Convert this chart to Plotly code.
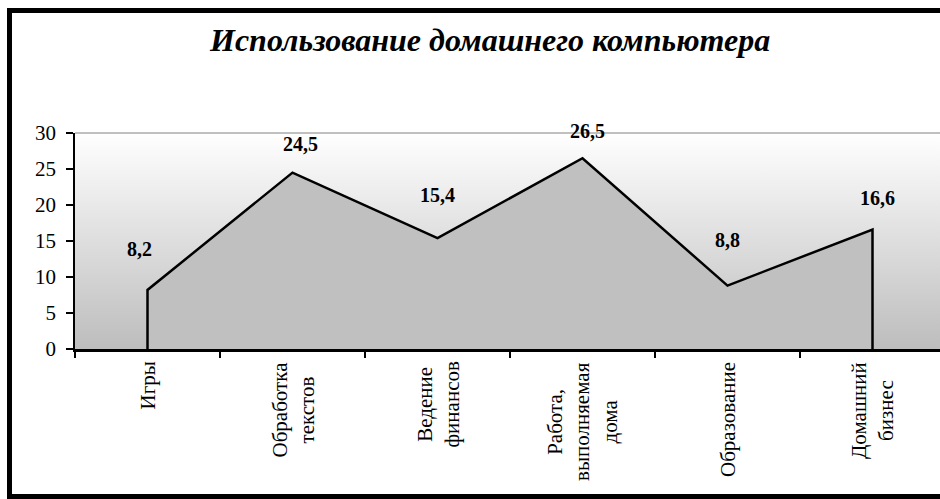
import plotly.graph_objects as go

title = "Использование домашнего компьютера"
categories = ["Игры", "Обработка<br>текстов", "Ведение<br>финансов",
              "Работа,<br>выполняемая<br>дома", "Образование", "Домашний<br>бизнес"]
values = [8.2, 24.5, 15.4, 26.5, 8.8, 16.6]
y_ticks = [0, 5, 10, 15, 20, 25, 30]

# label offsets (style)
label_yshift = [41, 29, 43, 27, 46, 31]
label_xshift = [-8, 8, 0, 5, 0, 5]

W, H = 940, 499
ML, MR, MT, MB = 75, 0, 133, 150
PW, PH = W - ML - MR, H - MT - MB

def px2paper_x(px):
    return (px - ML) / PW

def px2paper_y(py):
    return (H - MB - py) / PH

n = len(values)
idx = list(range(n))
cat_px = 145.0
x_max = -0.5 + PW / cat_px

FONT = "Liberation Serif"

fig = go.Figure()
fig.add_trace(go.Scatter(
    x=[idx[0]] + idx + [idx[-1]],
    y=[0] + values + [0],
    mode="lines",
    fill="toself",
    fillcolor="#c0c0c0",
    line=dict(color="black", width=2.5),
    hoverinfo="skip",
    showlegend=False,
))

annotations = []
for i, v in enumerate(values):
    annotations.append(dict(
        x=i, y=v, xref="x", yref="y",
        text="<b>" + f"{v:.1f}".replace(".", ",") + "</b>",
        showarrow=False, font=dict(family=FONT, size=20, color="black"),
        yshift=label_yshift[i], xshift=label_xshift[i],
        xanchor="center", yanchor="middle",
    ))
for i, c in enumerate(categories):
    annotations.append(dict(
        x=i, y=0, xref="x", yref="paper",
        text=c, showarrow=False, textangle=-90,
        font=dict(family=FONT, size=21, color="black"),
        xanchor="center", yanchor="top", yshift=-11, align="center",
    ))
annotations.append(dict(
    x=px2paper_x(489), y=px2paper_y(40), xref="paper", yref="paper",
    text="<b><i>" + title + "</i></b>", showarrow=False,
    font=dict(family=FONT, size=32, color="black"),
    xanchor="center", yanchor="middle",
))

svg = ("data:image/svg+xml;utf8,"
       "<svg xmlns='http://www.w3.org/2000/svg' width='100' height='100' preserveAspectRatio='none'>"
       "<defs><linearGradient id='g' x1='0' y1='0' x2='0' y2='1'>"
       "<stop offset='0' stop-color='%23ffffff'/><stop offset='1' stop-color='%23bdbdbd'/>"
       "</linearGradient></defs><rect width='100' height='100' fill='url(%23g)'/></svg>")

fig.update_layout(
    width=W, height=H,
    margin=dict(l=ML, r=MR, t=MT, b=MB, pad=0),
    paper_bgcolor="white", plot_bgcolor="rgba(0,0,0,0)",
    showlegend=False,
    annotations=annotations,
    images=[dict(source=svg, xref="paper", yref="paper", x=0, y=1,
                 sizex=1, sizey=1, sizing="stretch", layer="below",
                 xanchor="left", yanchor="top")],
    shapes=[
        dict(type="line", xref="paper", yref="paper", x0=0, x1=1, y0=1, y1=1,
             line=dict(color="#c0c0c0", width=2), layer="above"),
        dict(type="rect", xref="paper", yref="paper",
             x0=px2paper_x(9.5), x1=px2paper_x(990),
             y0=px2paper_y(496.5), y1=px2paper_y(10.5),
             line=dict(color="black", width=5), fillcolor="rgba(0,0,0,0)"),
    ],
    xaxis=dict(
        range=[-0.5, x_max], showgrid=False, zeroline=False,
        tickmode="array", tickvals=[i - 0.5 for i in range(n + 1)],
        ticktext=["" for _ in range(n + 1)],
        ticks="outside", ticklen=6, tickwidth=2, tickcolor="black",
        showline=True, linecolor="black", linewidth=3,
    ),
    yaxis=dict(
        range=[0, 30], showgrid=False, zeroline=False,
        tickmode="array", tickvals=y_ticks, ticktext=[str(t) for t in y_ticks],
        ticks="outside", ticklen=7, tickwidth=1.5, tickcolor="black",
        showline=True, linecolor="black", linewidth=1.5,
        tickfont=dict(family=FONT, size=21, color="black"),
        ticklabelstandoff=6,
    ),
)

fig.write_html("out.html", config={"displayModeBar": False},
               post_script="document.body.style.margin='0';")
